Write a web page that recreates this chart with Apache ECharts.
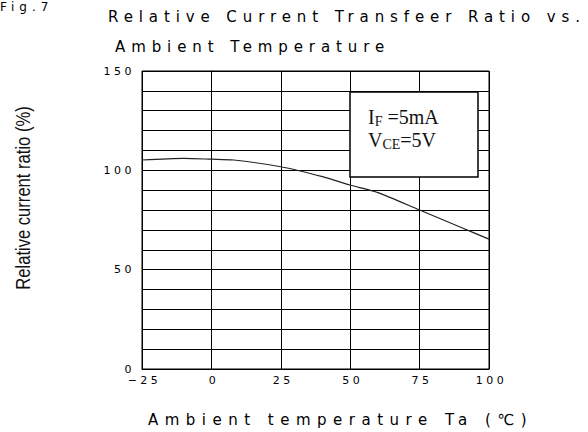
<!DOCTYPE html>
<html>
<head>
<meta charset="utf-8">
<script src="https://cdn.jsdelivr.net/npm/echarts@6/dist/echarts.min.js"></script>
<style>
  html, body { margin: 0; padding: 0; background: #fff; }
  #chart { width: 588px; height: 432px; }
  #chart text[fill="#000001"] { letter-spacing: 5.9px; }
  #chart text[fill="#000002"] { letter-spacing: 3.5px; }
  #chart text[fill="#000003"] { letter-spacing: 6.5px; }
  #chart text[fill="#000004"] { letter-spacing: 5px; }
</style>
</head>
<body>
<div id="chart"></div>
<script>
// ---- data ----
const titleLine1 = 'Relative Current Transfeer Ratio vs.';
const titleLine2 = 'Ambient Temperature';
const figLabel = 'Fig.7';
const xAxisName = 'Ambient temperature Ta (\u2103)';
const yAxisName = 'Relative current ratio (%)';
const temperatures = [-25, -10, 0, 8, 25, 40, 50, 60, 75, 90, 100];
const ratioValues = [105.2, 106.0, 105.6, 105.2, 101.8, 96.8, 92.6, 88.8, 80.0, 71.2, 65.4];
const xTickValues = [-25, 0, 25, 50, 75, 100];
const xTickLabels = ['\u221225', '0', '25', '50', '75', '100'];
const yTickValues = [0, 50, 100, 150];
const yTickLabels = ['0', '50', '100', '150'];

const chart = echarts.init(document.getElementById('chart'), null, { renderer: 'svg' });

const cadFont = 'DejaVu Sans';

chart.setOption({
  animation: false,
  backgroundColor: '#fff',
  title: [
    { text: titleLine1, left: 108, top: 9, padding: 0,
      textStyle: { fontFamily: cadFont, fontSize: 15, fontWeight: 'normal', color: '#000001', lineHeight: 15 } },
    { text: titleLine2, left: 115, top: 39, padding: 0,
      textStyle: { fontFamily: cadFont, fontSize: 15, fontWeight: 'normal', color: '#000001', lineHeight: 15 } },
    { text: figLabel, left: 0, top: 1, padding: 0,
      textStyle: { fontFamily: cadFont, fontSize: 12, fontWeight: 'normal', color: '#000004', lineHeight: 12 } }
  ],
  grid: { left: 142, right: 99, top: 71, bottom: 63, show: true, borderColor: '#000', borderWidth: 1 },
  xAxis: {
    type: 'value', min: -25, max: 100, interval: 25,
    name: xAxisName, nameLocation: 'middle', nameGap: 43,
    nameTextStyle: { fontFamily: cadFont, fontSize: 15, color: '#000003', lineHeight: 15, padding: [0, 0, 0, 50] },
    axisLine: { show: true, lineStyle: { color: '#000', width: 1 } },
    axisTick: { show: false },
    axisLabel: {
      margin: 6, fontFamily: cadFont, fontSize: 11, color: '#000002', padding: [0, 0, 0, 5],
      formatter: v => { const i = xTickValues.indexOf(v); return i >= 0 ? xTickLabels[i] : ''; }
    },
    splitLine: { show: true, lineStyle: { color: '#000', width: 1 } }
  },
  yAxis: {
    type: 'value', min: 0, max: 150, interval: 10,
    axisLine: { show: true, lineStyle: { color: '#000', width: 1 } },
    axisTick: { show: false },
    axisLabel: {
      margin: 7, fontFamily: cadFont, fontSize: 11, color: '#000002',
      formatter: v => { const i = yTickValues.indexOf(v); return i >= 0 ? yTickLabels[i] : ''; }
    },
    splitLine: { show: true, lineStyle: { color: '#000', width: 1 } }
  },
  series: [{
    type: 'line',
    data: temperatures.map((t, i) => [t, ratioValues[i]]),
    showSymbol: false,
    smooth: 0.25,
    lineStyle: { color: '#222', width: 1.2 },
    z: 3
  }],
  graphic: [
    {
      type: 'text', x: 23, y: 198, rotation: Math.PI / 2, scaleX: 0.83, z: 100,
      style: {
        text: yAxisName, fontFamily: 'Liberation Sans', fontSize: 20, fill: '#111',
        align: 'center', verticalAlign: 'middle'
      }
    },
    {
      type: 'rect', x: 350, y: 92, z: 100,
      shape: { x: 0, y: 0, width: 128, height: 85 },
      style: { fill: '#fff', stroke: '#000', lineWidth: 1.5 }
    },
    {
      type: 'text', x: 368, y: 105, z: 101,
      style: {
        text: '{m|I}{s|F}{m| =5mA}\n{m|V}{s|CE}{m|=5V}',
        fill: '#111',
        rich: {
          m: { fontFamily: 'Liberation Serif', fontSize: 20, lineHeight: 23, fill: '#111' },
          s: { fontFamily: 'Liberation Serif', fontSize: 14, lineHeight: 15, verticalAlign: 'bottom', fill: '#111' }
        }
      }
    }
  ]
});
</script>
</body>
</html>
